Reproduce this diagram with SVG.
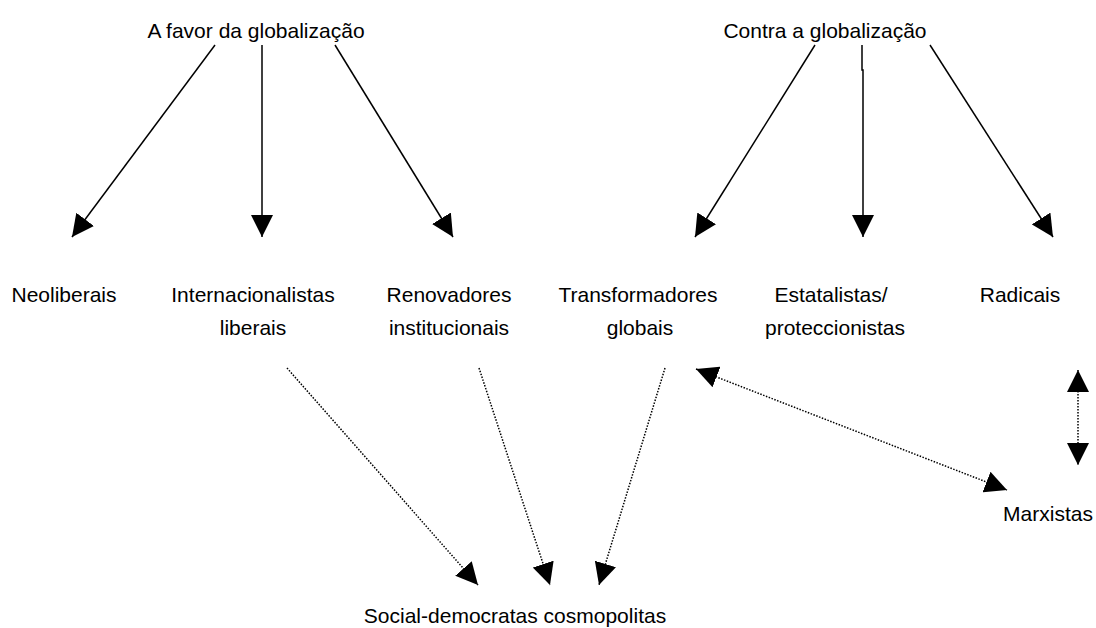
<svg xmlns="http://www.w3.org/2000/svg" width="1096" height="628" viewBox="0 0 1096 628">
<style>
text{font-family:"Liberation Sans",Arial,sans-serif;font-size:21px;fill:#000;text-anchor:middle}
.s{stroke:#000;stroke-width:1.5;fill:none}
.d{stroke:#000;stroke-width:1.5;fill:none;stroke-dasharray:1.5 1.5}
</style>
<defs>
<marker id="ah" markerUnits="userSpaceOnUse" markerWidth="22" markerHeight="22" viewBox="0 0 20 20" refX="20" refY="10" orient="auto">
<path d="M0,0 L20,10 L0,20 Z" fill="#000"/>
</marker>
<marker id="as" markerUnits="userSpaceOnUse" markerWidth="22" markerHeight="22" viewBox="0 0 20 20" refX="0" refY="10" orient="auto">
<path d="M20,0 L0,10 L20,20 Z" fill="#000"/>
</marker>
</defs>
<rect width="1096" height="628" fill="#fff"/>
<g id="pro"><text x="256" y="38">A favor da globalização</text></g>
<g id="contra"><text x="825" y="38">Contra a globalização</text></g>
<g id="neoliberais"><text x="64" y="302">Neoliberais</text></g>
<g id="internacionalistas"><text x="253" y="302">Internacionalistas</text><text x="253" y="335">liberais</text></g>
<g id="renovadores"><text x="449" y="302">Renovadores</text><text x="449" y="335">institucionais</text></g>
<g id="transformadores"><text x="638" y="302">Transformadores</text><text x="640" y="335">globais</text></g>
<g id="estatalistas"><text x="831" y="302">Estatalistas/</text><text x="835" y="335">proteccionistas</text></g>
<g id="radicais"><text x="1020" y="302">Radicais</text></g>
<g id="marxistas"><text x="1048" y="521">Marxistas</text></g>
<g id="socialdemocratas"><text x="515" y="623">Social-democratas cosmopolitas</text></g>
<g id="connectors">
<line class="s" x1="215" y1="45" x2="72" y2="237" marker-end="url(#ah)"/>
<line class="s" x1="262" y1="45" x2="262" y2="237" marker-end="url(#ah)"/>
<line class="s" x1="335" y1="45" x2="453" y2="237" marker-end="url(#ah)"/>
<line class="s" x1="815" y1="45" x2="695" y2="237" marker-end="url(#ah)"/>
<polyline class="s" points="862,45 862,70 863,70 863,237" marker-end="url(#ah)"/>
<line class="s" x1="930" y1="45" x2="1053" y2="237" marker-end="url(#ah)"/>
<line class="d" x1="287" y1="368" x2="478" y2="585" marker-end="url(#ah)"/>
<line class="d" x1="479" y1="368" x2="550" y2="585" marker-end="url(#ah)"/>
<line class="d" x1="665" y1="368" x2="599" y2="585" marker-end="url(#ah)"/>
<line class="d" x1="696" y1="369" x2="1007" y2="490" marker-start="url(#as)" marker-end="url(#ah)"/>
<line class="d" x1="1078" y1="370" x2="1078" y2="465" marker-start="url(#as)" marker-end="url(#ah)"/>
</g>
</svg>
